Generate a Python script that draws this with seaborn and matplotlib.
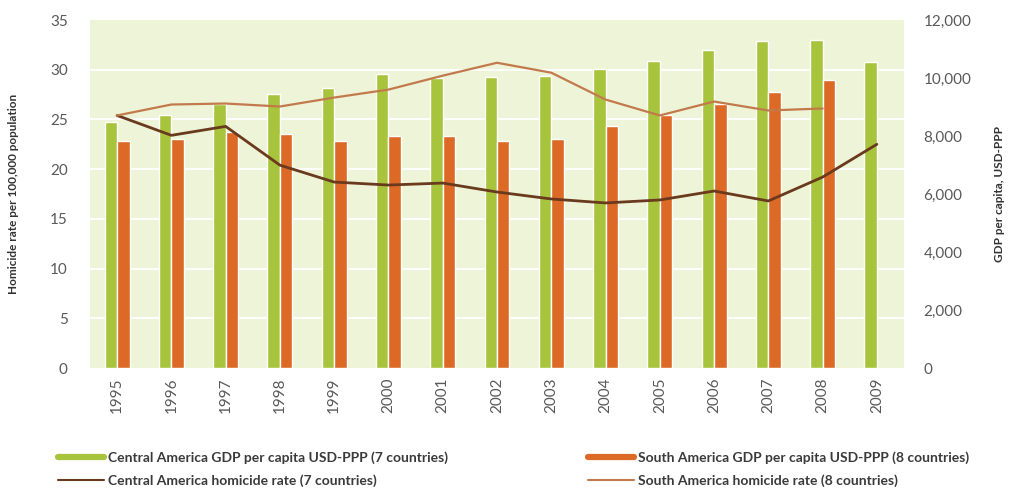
import numpy as np
import pandas as pd
import matplotlib
matplotlib.use("Agg")
import matplotlib.pyplot as plt
from matplotlib.lines import Line2D
from matplotlib.ticker import MultipleLocator, FuncFormatter
import seaborn as sns

years = ["1995", "1996", "1997", "1998", "1999", "2000", "2001", "2002",
         "2003", "2004", "2005", "2006", "2007", "2008", "2009"]
central_gdp = [8470, 8710, 9090, 9460, 9670, 10150, 10010, 10050,
               10080, 10320, 10590, 10970, 11280, 11310, 10560]
south_gdp = [7820, 7890, 8130, 8060, 7820, 7990, 7990, 7820,
             7890, 8330, 8710, 9090, 9530, 9940, np.nan]
central_hom = [25.4, 23.4, 24.3, 20.4, 18.7, 18.4, 18.6, 17.7,
               17.0, 16.6, 16.9, 17.8, 16.8, 19.2, 22.5]
south_hom = [25.4, 26.5, 26.6, 26.3, 27.2, 28.0, 29.4, 30.7,
             29.7, 27.0, 25.4, 26.8, 25.9, 26.1, np.nan]

lab_cg = "Central America GDP per capita USD-PPP (7 countries)"
lab_sg = "South America GDP per capita USD-PPP (8 countries)"
lab_ch = "Central America homicide rate (7 countries)"
lab_sh = "South America homicide rate (8 countries)"

c_green = "#a8c43c"
c_orange = "#dc6a26"
c_dark = "#6a3a1e"
c_light = "#c27a4c"
c_tick = "#595959"

sns.set_style("white")
plt.rcParams["font.family"] = ["Lato", "DejaVu Sans"]

gdp_df = pd.DataFrame({
    "year": years * 2,
    "gdp": central_gdp + south_gdp,
    "series": [lab_cg] * len(years) + [lab_sg] * len(years),
})
hom_df = pd.DataFrame({
    "pos": list(range(len(years))) * 2,
    "rate": central_hom + south_hom,
    "series": [lab_ch] * len(years) + [lab_sh] * len(years),
})

fig = plt.figure(figsize=(10.09, 4.91), dpi=100)
ax = fig.add_axes([90 / 1009, 1 - 368 / 491, (904 - 90) / 1009, (368 - 20) / 491])
ax.set_facecolor("#eef4d8")

sns.barplot(data=gdp_df, x="year", y="gdp", hue="series",
            palette=[c_green, c_orange], width=0.46, saturation=1,
            ax=ax, legend=False, zorder=2)
ax.set_ylim(0, 12000)
ax.set_xlim(-0.5, len(years) - 0.5)
ax.yaxis.set_major_locator(MultipleLocator(2000))
ax.yaxis.set_minor_locator(MultipleLocator(12000 / 7))
ax.yaxis.set_major_formatter(FuncFormatter(lambda v, p: f"{int(v):,}"))
ax.grid(False)
ax.grid(True, which="minor", axis="y", color="white", linewidth=1.3, zorder=0)
ax.set_axisbelow(True)
ax.set_xlabel("")
for s in ax.spines.values():
    s.set_visible(False)

ax2 = ax.twinx()
sns.lineplot(data=hom_df, x="pos", y="rate", hue="series",
             palette=[c_dark, c_light], ax=ax2, legend=False)
for ln, lw in zip(ax2.lines, [2.0, 1.6]):
    ln.set_linewidth(lw)
ax2.set_ylim(0, 35)
ax2.set_xlim(-0.5, len(years) - 0.5)
ax2.yaxis.set_major_locator(MultipleLocator(5))
ax2.set_xlabel("")
for s in ax2.spines.values():
    s.set_visible(False)

# GDP axis on the right, homicide axis on the left
ax.yaxis.tick_right()
ax.yaxis.set_label_position("right")
ax2.yaxis.tick_left()
ax2.yaxis.set_label_position("left")
ax.tick_params(axis="y", which="both", left=False, right=False, labelleft=False,
               labelright=True, length=0, pad=14, labelsize=11, labelcolor=c_tick)
ax.tick_params(axis="x", length=0, pad=7, labelsize=11, labelcolor=c_tick, labelrotation=90)
ax2.tick_params(axis="y", right=False, labelright=False, left=False, labelleft=True,
                length=0, pad=16, labelsize=11, labelcolor=c_tick)
ax.set_ylabel("GDP per capita, USD-PPP", fontsize=8.5, fontweight="bold",
              color="#333333", labelpad=16)
ax2.set_ylabel("Homicide rate per 100,000 population", fontsize=8.5,
               fontweight="bold", color="#333333", labelpad=22)

leg_kw = dict(loc="upper left", frameon=False, borderpad=0,
              borderaxespad=0, handlelength=3.3, handletextpad=0.3,
              labelspacing=0.8, prop={"weight": "bold", "size": 10})
left_handles = [Line2D([], [], color=c_green, lw=4.5), Line2D([], [], color=c_dark, lw=1.5)]
right_handles = [Line2D([], [], color=c_orange, lw=4.5), Line2D([], [], color=c_light, lw=1.5)]
l1 = fig.legend(left_handles, [lab_cg, lab_ch], bbox_to_anchor=(58 / 1009, 1 - 451 / 491), **leg_kw)
l2 = fig.legend(right_handles, [lab_sg, lab_sh], bbox_to_anchor=(588 / 1009, 1 - 451 / 491), **leg_kw)
for lg in (l1, l2):
    for t in lg.get_texts():
        t.set_color("#3a3a3a")

fig.savefig("out.png", dpi=100)
